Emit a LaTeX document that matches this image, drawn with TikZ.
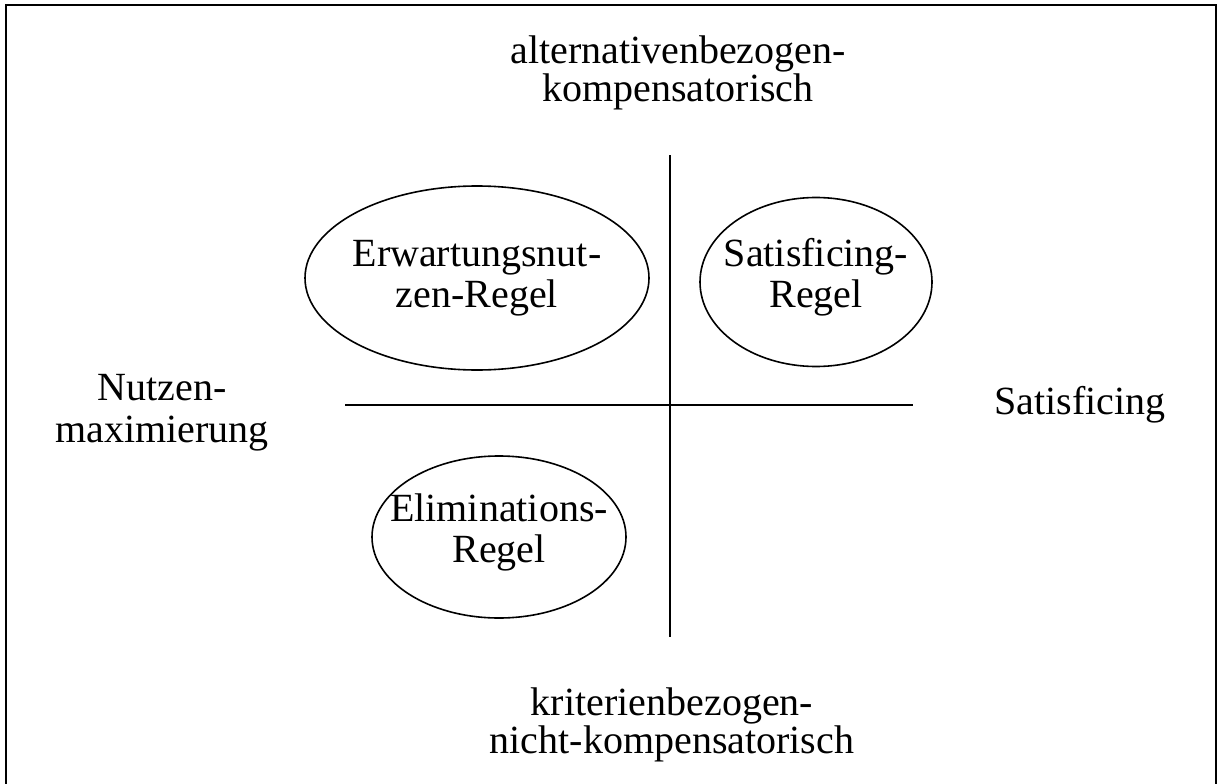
\documentclass[tikz,border=0pt]{standalone}
\usepackage{fontspec}
\setmainfont{Liberation Serif}
\usepackage{tikz}
\usetikzlibrary{shapes,positioning}
\tikzset{regel/.style={draw,ellipse,line width=1.6pt,inner sep=0pt}}
\tikzset{lbl/.style={align=center,font=\fontsize{40}{38}\selectfont}}
\tikzset{regeltext/.style={align=center,font=\fontsize{40}{41}\selectfont}}

\begin{document}
\begin{tikzpicture}[x=1pt,y=-1pt]
\useasboundingbox (0,0) rectangle (1218,784);
\fill[white] (0,0) rectangle (1218,784);
\draw[line width=1.6pt] (6,5) rectangle (1216,800);

\coordinate (n) at (670,155);
\coordinate (s) at (670,637);
\coordinate (w) at (345,405);
\coordinate (e) at (913,405);

\draw[line width=1.7pt] (n) -- (s);
\draw[line width=1.7pt] (w) -- (e);

\node[lbl] (oben) at (678,73) {alternativenbezogen-\\kompensatorisch};
\node[lbl] (unten) at (672,725) {kriterienbezogen-\\nicht-kompensatorisch};
\node[lbl] (links) at (162,413) {Nutzen-\\[4pt]maximierung};
\node[lbl] (rechts) at (1080,405) {Satisficing};

\node[regel,minimum width=344pt,minimum height=184pt] (eu) at (477,278) {};
\node[regel,minimum width=232pt,minimum height=169pt] (sat) at (816,282) {};
\node[regel,minimum width=254pt,minimum height=162pt] (elim) at (499,537) {};

\node[regeltext] (eutext) at (eu) {Erwartungsnut-\\zen-Regel};
\node[regeltext] (sattext) at ([yshift=5pt]sat.center) {Satisficing-\\Regel};
\node[regeltext] (elimtext) at ([yshift=5pt]elim.center) {Eliminations-\\Regel};
% \node[regeltext] at (1080,540) {};

\end{tikzpicture}
\end{document}
